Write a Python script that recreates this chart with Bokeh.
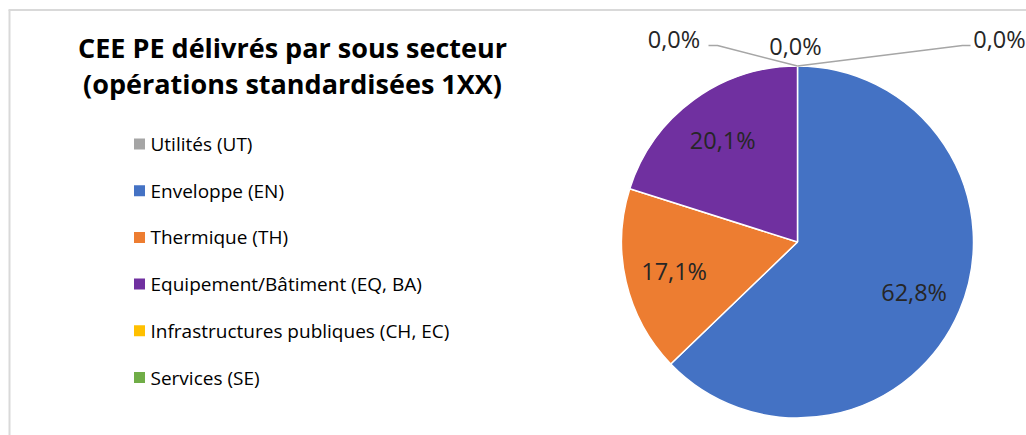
import numpy as np
from bokeh.plotting import figure
from bokeh.models import Range1d, ColumnDataSource
from bokeh.embed import file_html
from bokeh.resources import INLINE
from bokeh.core.properties import value

# ---- data ----
categories = ["Utilités (UT)", "Enveloppe (EN)", "Thermique (TH)",
              "Equipement/Bâtiment (EQ, BA)", "Infrastructures publiques (CH, EC)",
              "Services (SE)"]
shares = [0.0, 62.8, 17.1, 20.1, 0.0, 0.0]
share_labels = ["0,0%", "62,8%", "17,1%", "20,1%", "0,0%", "0,0%"]
colors = ["#a5a5a5", "#4472c4", "#ed7d31", "#7030a0", "#ffc000", "#70ad47"]
title_lines = ["CEE PE délivrés par sous secteur", "(opérations standardisées 1XX)"]

# ---- layout (screen pixels -> data: x = X, y = H - Y) ----
W, H = 1026, 435
def px(X):
    return X
def py(Y):
    return H - Y

CX, CY, R = px(797), py(241.5), 176
LABEL_RF = 0.72
FONT = "Open Sans"
TXT = "#262626"

p = figure(width=W, height=H, x_range=Range1d(0, W), y_range=Range1d(0, H),
           output_backend="svg", toolbar_location=None, min_border=0,
           x_axis_type=None, y_axis_type=None)
p.grid.visible = False
p.outline_line_color = None
p.background_fill_color = "white"
p.border_fill_color = "white"

# chart-area frame (top and left edges visible)
p.segment(x0=[px(8), px(9)], y0=[py(9.5), py(9.5)], x1=[px(1026), px(9)], y1=[py(9.5), py(435)],
          line_color="#d9d9d9", line_width=2)

# ---- pie ----
vals = np.array(shares, dtype=float)
frac = vals / vals.sum()
cum = np.cumsum(frac)
start = np.pi / 2 - 2 * np.pi * (cum - frac)
end = np.pi / 2 - 2 * np.pi * cum
nz = vals > 0
src = ColumnDataSource(dict(start=start[nz], end=end[nz],
                            color=[c for c, k in zip(colors, nz) if k]))
p.wedge(x=CX, y=CY, radius=R, start_angle="start", end_angle="end", direction="clock",
        fill_color="color", line_color="white", line_width=1.5, source=src)

mid = (start + end) / 2
lab_src = ColumnDataSource(dict(
    x=(CX + LABEL_RF * R * np.cos(mid))[nz],
    y=(CY + LABEL_RF * R * np.sin(mid))[nz],
    t=[l for l, k in zip(share_labels, nz) if k]))
p.text(x="x", y="y", text="t", source=lab_src, text_font=value(FONT),
       text_font_size="23.5px", text_color=TXT, text_align="center", text_baseline="middle")

# zero-value labels with leader lines, anchored at the top of the pie
TOPX, TOPY = CX, CY + R
zero_offsets = {0: (-2, 20.5), 4: (-123.5, 27.5), 5: (202, 27.5)}
zx, zy, zt = [], [], []
for i, (dx, dy) in zero_offsets.items():
    zx.append(TOPX + dx); zy.append(TOPY + dy); zt.append(share_labels[i])
p.text(x=zx, y=zy, text=zt, text_font=value(FONT), text_font_size="23.5px",
       text_color=TXT, text_align="center", text_baseline="middle")
p.multi_line(xs=[[TOPX - 89, TOPX - 80, TOPX], [TOPX + 173, TOPX + 165, TOPX]],
             ys=[[TOPY + 20.5, TOPY + 20.5, TOPY], [TOPY + 20.5, TOPY + 20.5, TOPY]],
             line_color="#a6a6a6", line_width=1.5)

# ---- title ----
p.text(x=[px(292)] * 2, y=[py(47), py(83)], text=title_lines, text_font=value(FONT),
       text_font_style="bold", text_font_size="27px", text_color="#000000",
       text_align="center", text_baseline="middle")

# ---- legend ----
n = len(categories)
rows = np.arange(n)
leg_y = py(143.5) - rows * 46.7
p.scatter(x=[px(139)] * n, y=leg_y, marker="square", size=11, fill_color=colors,
          line_color=None)
p.text(x=[px(150)] * n, y=leg_y, text=categories, text_font=value(FONT),
       text_font_size="19px", text_color="#000000", text_align="left",
       text_baseline="middle")

open("out.html", "w").write(file_html(p, INLINE))
